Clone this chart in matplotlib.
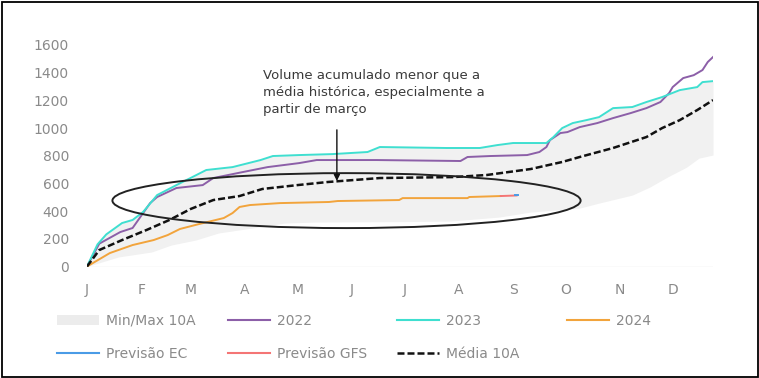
import matplotlib.pyplot as plt
from matplotlib.patches import Ellipse, Rectangle, Patch
from matplotlib.lines import Line2D
import numpy as np

# dias do ano (0 = 1 jan)
dias_2022 = [0, 7, 19, 26, 30, 36, 40, 51, 66, 72, 86, 103, 121, 131, 165, 213, 217, 230,
             251, 258, 262, 264, 270, 274, 281, 291, 300, 310, 319, 327, 332, 334, 340,
             346, 351, 354, 357]
vol_2022 = [0, 165, 249, 278, 350, 458, 502, 567, 588, 639, 675, 718, 747, 769, 769, 762,
            791, 798, 805, 827, 863, 913, 964, 971, 1007, 1036, 1072, 1108, 1144, 1188,
            1253, 1296, 1361, 1382, 1419, 1477, 1513]

dias_2023 = [0, 6, 11, 20, 26, 32, 40, 51, 59, 68, 83, 99, 106, 121, 140, 160, 167, 205,
             224, 234, 243, 262, 266, 271, 277, 285, 292, 300, 311, 319, 328, 338, 348,
             351, 357]
vol_2023 = [0, 160, 232, 314, 336, 394, 516, 588, 639, 697, 718, 769, 798, 805, 812, 827,
            863, 856, 856, 877, 892, 892, 935, 1000, 1036, 1058, 1079, 1144, 1152, 1188,
            1224, 1274, 1296, 1332, 1339]

dias_2024 = [0, 13, 26, 38, 46, 53, 64, 78, 83, 87, 93, 110, 138, 143, 178, 180, 217, 218, 236]
vol_2024 = [0, 97, 155, 191, 227, 271, 307, 350, 386, 430, 444, 458, 466, 473, 480, 494,
            494, 502, 509]

dias_gfs = [236, 245]
vol_gfs = [509, 513]
dias_ec = [244, 246]
vol_ec = [513, 513]

dias_media = [0, 7, 20, 34, 47, 59, 72, 87, 100, 120, 137, 167, 209, 228, 253, 271, 281,
              300, 319, 328, 338, 348, 357]
vol_media = [0, 119, 191, 264, 336, 415, 480, 509, 560, 588, 610, 639, 646, 661, 704, 755,
             791, 856, 935, 1000, 1057, 1130, 1202]

dias_min = [0, 18, 37, 48, 62, 75, 98, 113, 130, 178, 207, 235, 253, 281, 292, 311, 321,
            331, 342, 349, 357]
vol_min = [0, 69, 105, 155, 191, 242, 285, 314, 321, 324, 328, 357, 393, 422, 458, 516,
           574, 646, 718, 783, 805]
dias_max = dias_2023
vol_max = [0, 170, 242, 314, 340, 400, 516, 588, 639, 697, 718, 769, 798, 805, 812, 827,
           863, 856, 856, 877, 892, 892, 935, 1000, 1036, 1058, 1079, 1144, 1152, 1188,
           1224, 1274, 1296, 1332, 1339]

meses = ['J', 'F', 'M', 'A', 'M', 'J', 'J', 'A', 'S', 'O', 'N', 'D']
inicio_mes = [0, 31, 59, 90, 120, 151, 181, 212, 243, 273, 304, 334]
yticks = [0, 200, 400, 600, 800, 1000, 1200, 1400, 1600]

nota = 'Volume acumulado menor que a\nmédia histórica, especialmente a\npartir de março'

c_2022 = '#8c5fa8'
c_2023 = '#3fdfd0'
c_2024 = '#f2a43c'
c_ec = '#4a9be6'
c_gfs = '#f47575'
c_band = '#f1f1f1'
c_txt = '#8a8a8a'

plt.rcParams['font.family'] = ['DejaVu Sans']

fig = plt.figure(figsize=(7.59, 3.78), dpi=100)
ax = fig.add_axes([87 / 759, 1 - 266.5 / 378, 626 / 759, 221.5 / 378])

# faixa min/max 10A
xx = np.linspace(0, 357, 400)
ax.fill_between(xx, np.interp(xx, dias_min, vol_min), np.interp(xx, dias_max, vol_max),
                color=c_band, lw=0, zorder=1)

ax.axhline(0, color='#e8e8e8', lw=1, zorder=1)

ax.plot(dias_2022, vol_2022, color=c_2022, lw=1.4, zorder=3)
ax.plot(dias_2023, vol_2023, color=c_2023, lw=1.4, zorder=3)
ax.plot(dias_2024, vol_2024, color=c_2024, lw=1.4, zorder=3)
ax.plot(dias_gfs, vol_gfs, color=c_gfs, lw=1.4, zorder=3)
ax.plot(dias_ec, vol_ec, color=c_ec, lw=1.4, zorder=3)
ax.plot(dias_media, vol_media, color='#111111', lw=1.8, dashes=(2.8, 1.2), zorder=4)

ax.add_patch(Ellipse((148, 476), 267, 397, fill=False, ec='#222222', lw=1.4, zorder=5))
ax.annotate('', xy=(142.5, 598), xytext=(142.5, 1007),
            arrowprops=dict(arrowstyle='-|>', color='#111111', lw=1, mutation_scale=9),
            zorder=6)
ax.text(100.3, 1425, nota, fontsize=9.5, color='#3a3a3a', va='top', ha='left',
        linespacing=1.38)

ax.set_xlim(0, 357)
ax.set_ylim(0, 1600)
ax.set_xticks(inicio_mes)
ax.set_xticklabels(meses)
ax.set_yticks(yticks)
ax.tick_params(axis='both', length=0, labelsize=10, labelcolor=c_txt)
ax.tick_params(axis='y', pad=13)
ax.tick_params(axis='x', pad=12)
for s in ax.spines.values():
    s.set_visible(False)

# legenda em 4 colunas fixas
h_band = Patch(facecolor='#ececec', edgecolor='none')
h_2022 = Line2D([], [], color=c_2022, lw=1.5)
h_2023 = Line2D([], [], color=c_2023, lw=1.5)
h_2024 = Line2D([], [], color=c_2024, lw=1.5)
h_ec = Line2D([], [], color=c_ec, lw=1.5)
h_gfs = Line2D([], [], color=c_gfs, lw=1.5)
h_media = Line2D([], [], color='#111111', lw=1.8, dashes=(2.8, 1.2))

colunas = [
    ([h_band, h_ec], ['Min/Max 10A', 'Previsão EC'], 57),
    ([h_2022, h_gfs], ['2022', 'Previsão GFS'], 228),
    ([h_2023, h_media], ['2023', 'Média 10A'], 397),
    ([h_2024], ['2024'], 567),
]
for hs, ls, xp in colunas:
    fig.legend(hs, ls, loc='upper left', bbox_to_anchor=(xp / 759, 1 - 314 / 378),
               frameon=False, fontsize=10, labelcolor=c_txt, handlelength=3.0,
               handletextpad=0.5, labelspacing=1.35, borderpad=0, borderaxespad=0)

fig.patches.append(Rectangle((1.5 / 759, 1.5 / 378), 756 / 759, 375 / 378, fill=False,
                             ec='black', lw=1.3, transform=fig.transFigure, figure=fig))

fig.savefig('out.png', dpi=100)
